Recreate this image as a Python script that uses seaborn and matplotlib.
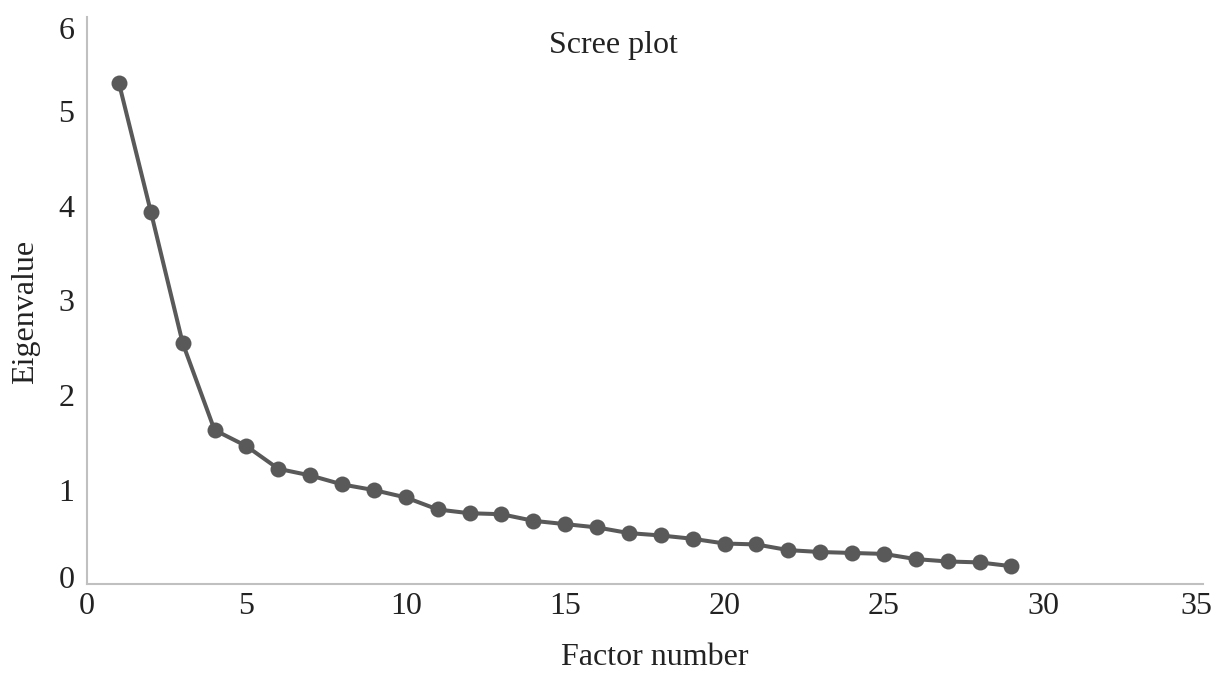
import matplotlib
matplotlib.use("Agg")
import matplotlib.pyplot as plt
import matplotlib.transforms as mtransforms
import seaborn as sns
import pandas as pd

factor_number = list(range(1, 30))
eigenvalue = [5.30, 3.94, 2.55, 1.63, 1.46, 1.22, 1.15, 1.055, 0.995, 0.917,
              0.79, 0.75, 0.74, 0.67, 0.635, 0.60, 0.54, 0.515, 0.48, 0.43,
              0.42, 0.36, 0.34, 0.33, 0.32, 0.265, 0.24, 0.23, 0.19]
x_ticks = [0, 5, 10, 15, 20, 25, 30, 35]
y_ticks = [0, 1, 2, 3, 4, 5, 6]

sns.set_theme(style="white")
plt.rcParams['font.family'] = ['Liberation Serif', 'DejaVu Serif']

df = pd.DataFrame({"Factor number": factor_number, "Eigenvalue": eigenvalue})

fig = plt.figure(figsize=(12.26, 6.73), dpi=100)
ax = fig.add_axes([0.071, 0.132, 0.910, 0.843])
sns.lineplot(data=df, x="Factor number", y="Eigenvalue", ax=ax,
             color="#595959", linewidth=2.9, marker="o", markersize=11.5,
             markeredgewidth=0, clip_on=False)

ax.set_xlim(0, 35)
ax.set_ylim(0, 6)
ax.set_xticks(x_ticks)
ax.set_yticks(y_ticks)
ax.tick_params(axis="both", labelsize=23, length=0, colors="#222222")
ax.tick_params(axis="y", pad=9)
ax.tick_params(axis="x", pad=6)
for s in ["top", "right"]:
    ax.spines[s].set_visible(False)
for s in ["left", "bottom"]:
    ax.spines[s].set_color("#c0c0c0")
    ax.spines[s].set_linewidth(1.5)

# Excel-style: keep the extreme labels inside the plot area
def shift(label, dx, dy):
    label.set_transform(label.get_transform() +
                        mtransforms.ScaledTranslation(dx / 100, dy / 100, fig.dpi_scale_trans))

ylabels = ax.get_yticklabels()
shift(ylabels[0], 0, 7)
shift(ylabels[-1], 0, -11)
xlabels = ax.get_xticklabels()
shift(xlabels[-1], -6, 0)

ax.set_xlabel("Factor number", fontsize=23, color="#222222")
ax.xaxis.label.set_va("baseline")
ax.xaxis.set_label_coords(0.509, -0.143)
ax.set_ylabel("Eigenvalue", fontsize=23, color="#222222")
ax.yaxis.label.set_va("center")
ax.yaxis.label.set_ha("center")
ax.yaxis.set_label_coords(-0.055, 0.48)
fig.suptitle("Scree plot", x=0.5, y=0.933, va="center", fontsize=23, color="#222222")

fig.savefig("out.png", dpi=100)
